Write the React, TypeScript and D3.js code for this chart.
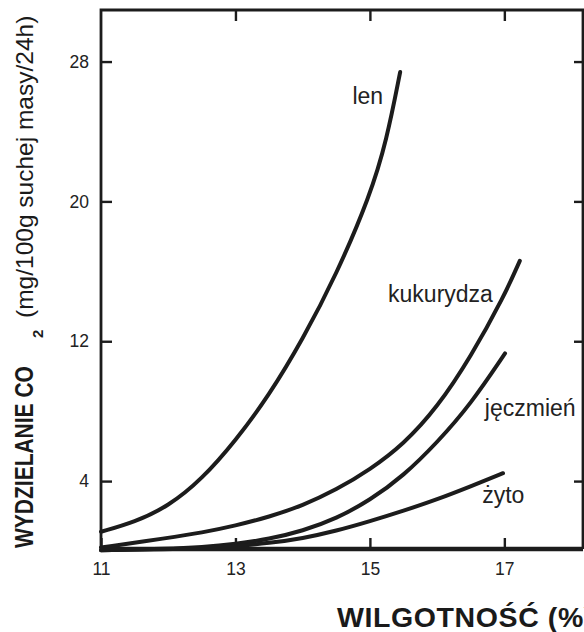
import React, { useRef, useEffect } from "react";
import * as d3 from "d3";

// moisture (%) vs CO2 release (mg/100g dry mass/24h)
const lenX = [11, 11.5, 12, 12.5, 13, 13.5, 14, 14.5, 15, 15.25, 15.45];
const lenY = [1.1, 1.65, 2.55, 4.1, 6.3, 8.9, 12.1, 15.8, 20.3, 23.5, 27.4];

const kukX = [11, 12, 12.5, 13, 13.5, 14, 14.5, 15, 15.5, 16, 16.5, 17, 17.23];
const kukY = [0.2, 0.75, 1.05, 1.45, 1.95, 2.6, 3.5, 4.65, 6.1, 8.2, 11.1, 14.6, 16.6];

const jeczX = [11, 12, 12.5, 13, 13.5, 14, 14.5, 15, 15.5, 16, 16.5, 17.01];
const jeczY = [0.05, 0.12, 0.22, 0.4, 0.68, 1.15, 1.85, 2.9, 4.3, 6.2, 8.4, 11.3];

const zytoX = [11, 12, 12.5, 13, 13.5, 14, 14.5, 15, 15.5, 16, 16.5, 16.98];
const zytoY = [0.05, 0.1, 0.17, 0.28, 0.45, 0.72, 1.15, 1.7, 2.3, 2.95, 3.7, 4.45];

const seriesNames = ["len", "kukurydza", "jęczmień", "żyto"];
// where each curve name sits, in data units (x %, y mg)
const labelX = [14.74, 15.27, 16.71, 16.67];
const labelY = [25.6, 14.25, 7.75, 2.75];

const xTicks = [11, 13, 15, 17];
const yTicks = [4, 12, 20, 28];

const W = 584;
const H = 632;
const ink = "#1c1c1c";
const font = "'Liberation Sans', Arial, Helvetica, sans-serif";

const Chart = () => {
  const ref = useRef<SVGSVGElement | null>(null);

  useEffect(() => {
    if (!ref.current) return;
    const svg = d3.select(ref.current);
    svg.selectAll("*").remove();

    const x = d3.scaleLinear().domain([11, 18.17]).range([101, 583]);
    const y = d3.scaleLinear().domain([0, 30.95]).range([551, 10]);
    const [x0, x1] = x.range();
    const yTop = y(30.95);
    const yBot = 549;

    const series = [
      d3.zip(lenX, lenY),
      d3.zip(kukX, kukY),
      d3.zip(jeczX, jeczY),
      d3.zip(zytoX, zytoY),
    ];

    const line = d3
      .line<number[]>()
      .x((d) => x(d[0]))
      .y((d) => y(d[1]))
      .curve(d3.curveBasis);

    // curves
    svg
      .append("g")
      .selectAll("path")
      .data(series)
      .join("path")
      .attr("d", (d) => line(d) as string)
      .attr("fill", "none")
      .attr("stroke", ink)
      .attr("stroke-width", 4)
      .attr("stroke-linecap", "round");

    // axes (ticks point inward)
    const bottom = svg
      .append("g")
      .attr("transform", `translate(0,${yBot})`)
      .call(
        d3
          .axisBottom(x)
          .tickValues(xTicks)
          .tickSizeInner(-11)
          .tickSizeOuter(0)
          .tickPadding(14)
          .tickFormat(d3.format("d"))
      );
    const top = svg
      .append("g")
      .attr("transform", `translate(0,${yTop})`)
      .call(d3.axisTop(x).tickValues(xTicks.slice(1)).tickSize(-11).tickFormat(() => ""));
    const left = svg
      .append("g")
      .attr("transform", `translate(${x0},0)`)
      .call(
        d3
          .axisLeft(y)
          .tickValues(yTicks)
          .tickSizeInner(-11)
          .tickSizeOuter(0)
          .tickPadding(12)
          .tickFormat(d3.format("d"))
      );
    const right = svg
      .append("g")
      .attr("transform", `translate(${x1},0)`)
      .call(d3.axisRight(y).tickValues(yTicks).tickSize(-9).tickFormat(() => ""));

    [bottom, top, left, right].forEach((g) => {
      g.select(".domain").remove();
      g.selectAll(".tick line").attr("stroke", ink).attr("stroke-width", 2.4);
      g.selectAll(".tick text")
        .attr("fill", "#222")
        .attr("font-family", font)
        .attr("font-size", 17.5);
    });

    // frame
    svg
      .append("path")
      .attr("d", `M${x0},${yBot}V${yTop}H${x1}V${yBot}`)
      .attr("fill", "none")
      .attr("stroke", ink)
      .attr("stroke-width", 2.8);
    svg
      .append("line")
      .attr("x1", x0 - 1)
      .attr("x2", x1)
      .attr("y1", yBot)
      .attr("y2", yBot)
      .attr("stroke", ink)
      .attr("stroke-width", 4.5);

    // curve names
    svg
      .append("g")
      .selectAll("text")
      .data(seriesNames)
      .join("text")
      .attr("x", (_, i) => x(labelX[i]))
      .attr("y", (_, i) => y(labelY[i]))
      .attr("font-family", font)
      .attr("font-size", 23)
      .attr("fill", "#222")
      .text((d) => d);

    // x title (runs off the right edge in the scan)
    svg
      .append("text")
      .attr("x", 337)
      .attr("y", 627)
      .attr("font-family", font)
      .attr("font-weight", "bold")
      .attr("font-size", 28.5)
      .attr("letter-spacing", 0.6)
      .attr("fill", "#1a1a1a")
      .text("WILGOTNOŚĆ (%)");

    // y title, in three pieces (bold part is narrower in the scan)
    const yt = svg.append("g").attr("fill", "#1a1a1a").attr("font-family", font);
    yt.append("text")
      .attr("transform", "translate(33,548) rotate(-90) scale(0.84,1)")
      .attr("font-weight", "bold")
      .attr("font-size", 25)
      .text("WYDZIELANIE CO");
    yt.append("text")
      .attr("transform", "translate(43,338) rotate(-90)")
      .attr("font-weight", "bold")
      .attr("font-size", 15)
      .text("2");
    yt.append("text")
      .attr("transform", "translate(33,318) rotate(-90)")
      .attr("font-size", 24.5)
      .text("(mg/100g suchej masy/24h)");
  }, []);

  return (
    <svg
      ref={ref}
      width={W}
      height={H}
      style={{ position: "absolute", left: 0, top: 0, background: "#fff" }}
    />
  );
};

export default function App() {
  return <Chart />;
}
